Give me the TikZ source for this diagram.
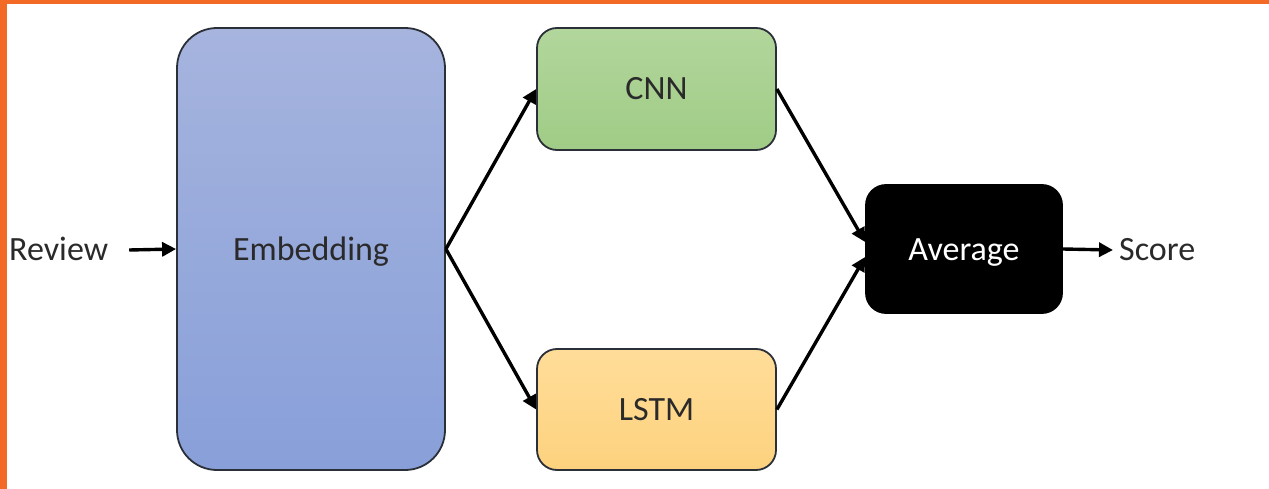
\documentclass[tikz,border=0pt]{standalone}
\usepackage{fontspec}
\setmainfont{Carlito}
\usetikzlibrary{arrows.meta}
\definecolor{orangebar}{HTML}{F26A26}
\definecolor{embtop}{HTML}{A6B4DE}
\definecolor{embbot}{HTML}{889FD9}
\definecolor{cnntop}{HTML}{B2D69C}
\definecolor{cnnbot}{HTML}{A0CC86}
\definecolor{lstmtop}{HTML}{FFDD99}
\definecolor{lstmbot}{HTML}{FDD27E}
\definecolor{edge}{HTML}{2B2F38}
\definecolor{txt}{HTML}{2A2A2A}
\tikzset{
  blockbox/.style={draw=edge, line width=1.8pt, text=txt, font=\fontsize{34}{40}\selectfont,
    inner sep=0pt, text height=22pt, text depth=0pt},
  plainlabel/.style={text=txt, font=\fontsize{34}{40}\selectfont, inner sep=0pt,
    text height=22pt, text depth=0pt},
  arr/.style={line width=3.4pt, -{Triangle[length=14pt,width=14pt]}},
}
\begin{document}
\begin{tikzpicture}[x=1pt,y=-1pt]
\useasboundingbox (0,0) rectangle (1269,489);
\fill[white] (0,0) rectangle (1269,489);
\fill[orangebar] (0,0) rectangle (1269,4);
\fill[orangebar] (0,0) rectangle (7,489);

\node[blockbox, rounded corners=40pt, top color=embtop, bottom color=embbot,
  minimum width=268pt, minimum height=442pt] (emb) at (311,249) {Embedding};
\node[blockbox, rounded corners=20pt, top color=cnntop, bottom color=cnnbot,
  minimum width=239pt, minimum height=122pt] (cnn) at (656.5,89) {CNN};
\node[blockbox, rounded corners=20pt, top color=lstmtop, bottom color=lstmbot,
  minimum width=239pt, minimum height=121pt] (lstm) at (656.5,409.5) {LSTM};
\node[blockbox, draw=black, fill=black, text=white, rounded corners=20pt,
  minimum width=196pt, minimum height=128pt] (avg) at (964,249) {Average};

\node[plainlabel, anchor=west] (review) at (9,250) {Review};
\node[plainlabel, anchor=west] (score) at (1119,250) {Score};

\draw[arr] ([xshift=21pt]review.east) -- (emb.west);
\draw[arr] (emb.east) -- (cnn.west);
\draw[arr] (emb.east) -- (lstm.west);
\draw[arr] (cnn.east) -- ([yshift=7pt]avg.west);
\draw[arr] (lstm.east) -- ([yshift=-8pt]avg.west);
\draw[arr] (avg.east) -- ([xshift=-6pt]score.west);
\end{tikzpicture}
\end{document}
